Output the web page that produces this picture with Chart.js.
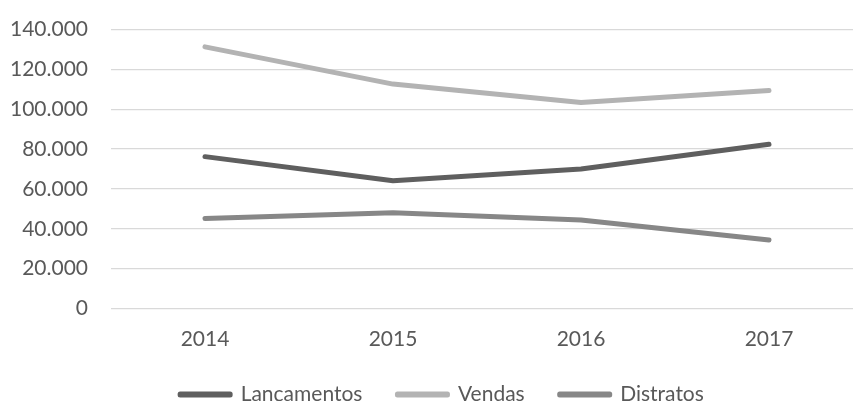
<!DOCTYPE html>
<html>
<head>
<meta charset="utf-8">
<script src="https://cdn.jsdelivr.net/npm/chart.js@4"></script>
<style>
  html, body { margin: 0; padding: 0; background: #fff; overflow: hidden; }
  #lineChart { display: block; }
</style>
</head>
<body>
<canvas id="lineChart" width="864" height="401"></canvas>
<script>
// data
var years = ['2014', '2015', '2016', '2017']
var lancamentos = [76200, 64100, 70000, 82400]
var vendas = [131300, 112600, 103400, 109400]
var distratos = [45100, 48100, 44400, 34400]
var yMax = 140000
var yStep = 20000

function fmt(v) {
    return String(v).replace(/\B(?=(\d{3})+(?!\d))/g, '.')
}

var plotTop = 29.5
var plotBottom = 308.5
var legendH = 42
var legendMid = 393
var legendCenterX = 442

// put the legend where the original has it
var moveLegend = {
    id: 'moveLegend',
    afterLayout: function (chart) {
        var lg = chart.legend
        var w = lg.right - lg.left
        lg.left = legendCenterX - w / 2
        lg.right = legendCenterX + w / 2
        lg.top = legendMid - lg.options.labels.padding - 9
        lg.bottom = 401
        lg.height = lg.bottom - lg.top
    }
}

var font = { family: 'Lato', size: 21 }
Chart.defaults.color = '#595959'

function line(label, data, color) {
    return {
        label: label,
        data: data,
        borderColor: color,
        backgroundColor: color,
        borderWidth: 5,
        borderCapStyle: 'round',
        borderJoinStyle: 'round',
        pointRadius: 0,
        tension: 0
    }
}

var ctx = document.getElementById('lineChart')
var myChart = new Chart(ctx, {
    type: 'line',
    data: {
        labels: years,
        datasets: [
            line('Lançamentos', lancamentos, '#5f5f5f'),
            line('Vendas', vendas, '#b3b3b3'),
            line('Distratos', distratos, '#878787')
        ]
    },
    options: {
        responsive: false,
        animation: false,
        layout: { padding: { top: plotTop, right: 1, bottom: 0, left: 0 } },
        plugins: {
            tooltip: { enabled: false },
            legend: {
                position: 'bottom',
                maxHeight: legendH,
                labels: {
                    font: font,
                    color: '#595959',
                    boxWidth: 50,
                    boxHeight: 1,
                    padding: 35
                }
            }
        },
        scales: {
            x: {
                offset: true,
                grid: { display: false, offset: true, drawTicks: false },
                border: { display: false },
                ticks: { font: font, color: '#595959', padding: 18, maxRotation: 0 },
                afterFit: function (axis) {
                    axis.height = 401 - plotBottom - axis.chart.legend.height
                    axis.paddingLeft = 0
                    axis.paddingRight = 0
                }
            },
            y: {
                min: 0,
                max: yMax,
                grid: { color: '#d9d9d9', lineWidth: 1.3, drawTicks: false },
                border: { display: false },
                ticks: {
                    stepSize: yStep,
                    font: font,
                    color: '#595959',
                    padding: 23,
                    callback: function (v) { return fmt(v) }
                },
                afterFit: function (axis) {
                    axis.width = 111
                    axis.paddingTop = 0
                    axis.paddingBottom = 0
                }
            }
        }
    },
    plugins: [moveLegend]
});
</script>
</body>
</html>
